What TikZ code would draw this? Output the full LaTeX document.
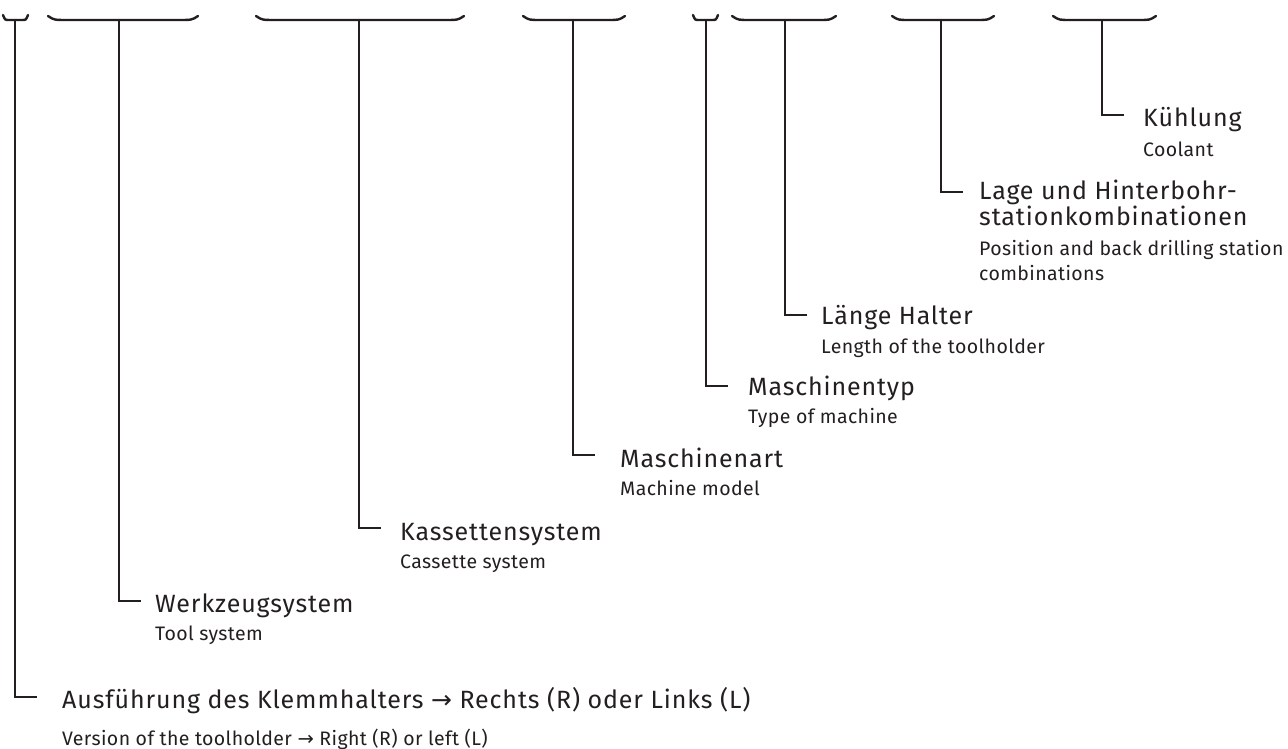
\documentclass[tikz,border=0pt]{standalone}
\usepackage{fontspec}
\setmainfont{Fira Sans}
\newfontfamily\defont[LetterSpace=3.5]{Fira Sans}
\newfontfamily\enfont[LetterSpace=2]{Fira Sans}
\newfontfamily\arrowfont{DejaVu Sans}
\definecolor{ink}{RGB}{35,31,32}

\begin{document}
\begin{tikzpicture}[x=1pt,y=-1pt,
    brc/.style={draw=ink,line width=2.4pt,line cap=round},
    leg/.style={draw=ink,line width=2.2pt},
    de/.style={anchor=base west,inner sep=0pt,text=ink,font=\defont\fontsize{25}{28}\selectfont},
    en/.style={anchor=base west,inner sep=0pt,text=ink,font=\enfont\fontsize{19.5}{24}\selectfont}]
    \useasboundingbox (0,0) rectangle (1288,749);
    % braces on top
    \draw[brc] (3,15) .. controls (5,20) .. (9,20) -- (22,20) .. controls (26,20) .. (28,15);
    \draw[brc] (48,16) .. controls (54,20) .. (68,20) -- (178,20) .. controls (192,20) .. (198,16);
    \draw[brc] (256,16) .. controls (262,20) .. (276,20) -- (444,20) .. controls (458,20) .. (464,16);
    \draw[brc] (523,16) .. controls (529,20) .. (541,20) -- (607,20) .. controls (619,20) .. (625,16);
    \draw[brc] (693,15) .. controls (695,20) .. (699,20) -- (712,20) .. controls (716,20) .. (718,15);
    \draw[brc] (732,16) .. controls (738,20) .. (750,20) -- (818,20) .. controls (830,20) .. (836,16);
    \draw[brc] (892,16) .. controls (898,20) .. (910,20) -- (976,20) .. controls (988,20) .. (994,16);
    \draw[brc] (1053,16) .. controls (1059,20) .. (1071,20) -- (1138,20) .. controls (1150,20) .. (1156,16);
    % stems
    \coordinate (t1) at (15,20);
    \coordinate (t2) at (119,20);
    \coordinate (t3) at (359,20);
    \coordinate (t4) at (573,20);
    \coordinate (t5) at (706,20);
    \coordinate (t6) at (785,20);
    \coordinate (t7) at (941,20);
    \coordinate (t8) at (1102,20);
    \coordinate (k1) at (37,697);
    \coordinate (k2) at (141,601);
    \coordinate (k3) at (381,528);
    \coordinate (k4) at (595,455);
    \coordinate (k5) at (728,386);
    \coordinate (k6) at (807,315);
    \coordinate (k7) at (963,192);
    \coordinate (k8) at (1124,115);
    \draw[leg] (t1) |- (k1);
    \draw[leg] (t2) |- (k2);
    \draw[leg] (t3) |- (k3);
    \draw[leg] (t4) |- (k4);
    \draw[leg] (t5) |- (k5);
    \draw[leg] (t6) |- (k6);
    \draw[leg] (t7) |- (k7);
    \draw[leg] (t8) |- (k8);
    % labels
    \node[de] (de1) at (62,708) {Ausführung des Klemmhalters {\arrowfont →} Rechts (R) oder Links (L)};
    \node[en] (en1) at (62,745) {Version of the toolholder {\arrowfont →} Right (R) or left (L)};
    \node[de] (de2) at (155,612) {Werkzeugsystem};
    \node[en] (en2) at (155,640) {Tool system};
    \node[de] (de3) at (400,540) {Kassettensystem};
    \node[en] (en3) at (400,568) {Cassette system};
    \node[de] (de4) at (620,467) {Maschinenart};
    \node[en] (en4) at (620,495) {Machine model};
    \node[de] (de5) at (748,395) {Maschinentyp};
    \node[en] (en5) at (748,423) {Type of machine};
    \node[de] (de6) at (821,324) {Länge Halter};
    \node[en] (en6) at (821,353) {Length of the toolholder};
    \node[de] (de7) at (979,199) {Lage und Hinterbohr-};
    \node[de] (de7b) at (979,225) {stationkombinationen};
    \node[en] (en7) at (979,255) {Position and back drilling station};
    \node[en] (en7b) at (979,280) {combinations};
    \node[de] (de8) at (1143,127) {Kühlung};
    \node[en] (en8) at (1143,157) {Coolant};
\end{tikzpicture}
\end{document}
